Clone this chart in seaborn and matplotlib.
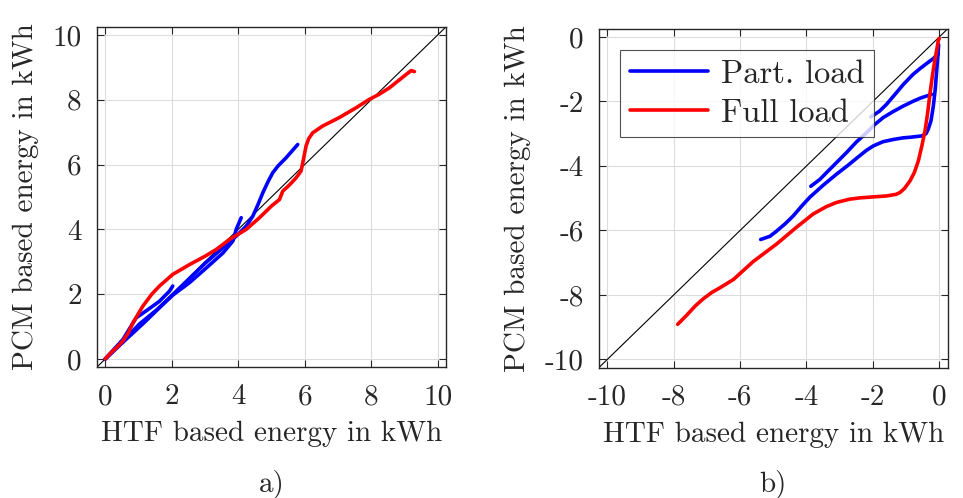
import numpy as np
import pandas as pd
import matplotlib
matplotlib.use("Agg")
import matplotlib.pyplot as plt
import seaborn as sns

# ---------------- data ----------------
# Panel a) charging
a_full_x = [0.0, 0.15, 0.33, 0.53, 0.70, 0.83, 1.13, 1.40, 1.63, 2.03, 2.53, 3.00, 3.34, 3.74, 4.24, 4.64, 5.00, 5.24, 5.34, 5.55, 5.74, 5.89, 5.97, 6.04, 6.12, 6.24, 6.54, 7.04, 7.54, 7.94, 8.24, 8.55, 9.05, 9.20, 9.30]
a_full_y = [0.0, 0.17, 0.34, 0.55, 0.82, 1.11, 1.63, 2.00, 2.25, 2.61, 2.91, 3.17, 3.38, 3.69, 4.00, 4.36, 4.72, 4.92, 5.18, 5.38, 5.59, 5.80, 6.20, 6.57, 6.80, 6.98, 7.19, 7.45, 7.75, 8.01, 8.17, 8.37, 8.78, 8.90, 8.87]

a_part1_x = [0.0, 0.53, 0.93, 1.28, 1.63, 1.93, 2.03]
a_part1_y = [0.0, 0.60, 1.27, 1.52, 1.78, 2.09, 2.25]
a_part2_x = [0.0, 0.53, 1.03, 1.53, 2.03, 2.53, 3.04, 3.54, 3.84, 3.94, 4.09]
a_part2_y = [0.0, 0.55, 1.08, 1.50, 1.97, 2.35, 2.81, 3.27, 3.64, 4.00, 4.36]
a_part3_x = [0.0, 0.60, 1.20, 2.00, 3.00, 3.94, 4.24, 4.44, 4.60, 4.74, 4.90, 5.04, 5.20, 5.44, 5.79]
a_part3_y = [0.0, 0.58, 1.15, 1.95, 2.95, 3.79, 4.10, 4.41, 4.78, 5.13, 5.48, 5.75, 5.96, 6.21, 6.62]

# Panel b) discharging
b_full_x = [-7.88, -7.61, -7.35, -7.11, -6.85, -6.61, -6.20, -5.90, -5.60, -4.90, -4.30, -3.80, -3.40, -3.09, -2.70, -2.39, -2.00, -1.59, -1.30, -1.18, -1.05, -0.88, -0.75, -0.63, -0.53, -0.43, -0.35, -0.28, -0.20, -0.13, -0.06, -0.03, 0.00]
b_full_y = [-8.91, -8.63, -8.34, -8.12, -7.92, -7.78, -7.52, -7.24, -6.96, -6.42, -5.90, -5.49, -5.26, -5.13, -5.03, -4.99, -4.96, -4.93, -4.88, -4.82, -4.70, -4.46, -4.20, -3.84, -3.40, -2.91, -2.35, -1.75, -1.15, -0.70, -0.30, -0.10, -0.05]

b_part1_x = [-5.38, -5.10, -4.90, -4.65, -4.40, -4.15, -3.90, -3.50, -3.09, -2.75, -2.49, -2.20, -1.99, -1.70, -1.39, -1.10, -0.88, -0.53, -0.40, -0.33, -0.25, -0.18, -0.12, -0.08, -0.04, -0.02]
b_part1_y = [-6.28, -6.18, -6.02, -5.80, -5.55, -5.25, -4.97, -4.60, -4.25, -3.98, -3.76, -3.52, -3.38, -3.25, -3.18, -3.13, -3.11, -3.07, -3.00, -2.85, -2.60, -2.15, -1.60, -1.06, -0.55, -0.24]
b_part2_x = [-3.87, -3.60, -3.39, -3.10, -2.79, -2.50, -2.19, -1.95, -1.69, -1.40, -1.08, -0.80, -0.58, -0.35, -0.23]
b_part2_y = [-4.63, -4.42, -4.20, -3.90, -3.58, -3.26, -2.97, -2.72, -2.50, -2.32, -2.14, -2.00, -1.90, -1.82, -1.78]
b_part3_x = [-2.06, -1.80, -1.59, -1.35, -1.08, -0.80, -0.58, -0.35, -0.18, -0.03]
b_part3_y = [-2.48, -2.30, -2.09, -1.80, -1.47, -1.17, -0.98, -0.80, -0.67, -0.52]

series_labels = ["Part. load", "Full load"]
a_ticks = [0, 2, 4, 6, 8, 10]
b_ticks = [-10, -8, -6, -4, -2, 0]
xlabel = "HTF based energy in kWh"
ylabel = "PCM based energy in kWh"
panel_tags = ["a)", "b)"]

# ---------------- style ----------------
sns.set_theme(style="white")
plt.rcParams["font.family"] = ["cmr10", "DejaVu Serif"]
plt.rcParams["axes.unicode_minus"] = False
plt.rcParams["mathtext.fontset"] = "cm"
FS = 21
LFS = 23.5
TXT = "#262626"

fig = plt.figure(figsize=(9.63, 4.98), dpi=100)
axA = fig.add_axes([0.1007, 0.263, 0.3624, 0.683])
axB = fig.add_axes([0.622, 0.262, 0.362, 0.680])

blue = "#0000FF"
red = "#FF0000"
LW = 2.6


def draw(ax, x, y, color, label=None):
    df = pd.DataFrame({"x": x, "y": y})
    sns.lineplot(data=df, x="x", y="y", ax=ax, color=color, lw=LW, sort=False,
                 estimator=None, label=label, legend=False)


# panel a
for px, py in [(a_part1_x, a_part1_y), (a_part2_x, a_part2_y), (a_part3_x, a_part3_y)]:
    draw(axA, px, py, blue)
draw(axA, a_full_x, a_full_y, red)
axA.plot([-0.25, 10.25], [-0.25, 10.25], color="black", lw=0.8, zorder=1)
axA.set_xlim(-0.25, 10.25)
axA.set_ylim(-0.25, 10.25)
axA.set_xticks(a_ticks)
axA.set_yticks(a_ticks)

# panel b
draw(axB, b_part1_x, b_part1_y, blue, series_labels[0])
draw(axB, b_part2_x, b_part2_y, blue)
draw(axB, b_part3_x, b_part3_y, blue)
draw(axB, b_full_x, b_full_y, red, series_labels[1])
axB.plot([-10.25, 0.25], [-10.25, 0.25], color="black", lw=0.8, zorder=1)
axB.set_xlim(-10.25, 0.25)
axB.set_ylim(-10.25, 0.25)
axB.set_xticks(b_ticks)
axB.set_yticks(b_ticks)

for ax, tag in zip([axA, axB], panel_tags):
    ax.grid(True, color="#dcdcdc", lw=0.8)
    ax.set_axisbelow(True)
    for s in ax.spines.values():
        s.set_color(TXT)
        s.set_linewidth(1.0)
    ax.tick_params(direction="in", length=5, width=0.8, colors=TXT,
                   top=True, right=True, bottom=True, left=True,
                   labelsize=FS, labelcolor=TXT)
    ax.tick_params(axis="x", pad=12)
    ax.tick_params(axis="y", pad=11)
    ax.set_xlabel(xlabel, fontsize=FS, color=TXT, labelpad=8)
    ax.set_ylabel(ylabel, fontsize=FS, color=TXT, labelpad=10)
    bb = ax.get_position()
    fig.text((bb.x0 + bb.x1) / 2, 0.028, tag, ha="center", va="center",
             fontsize=FS, color=TXT)

leg = axB.legend(loc="upper left", bbox_to_anchor=(0.06, 0.938), fontsize=LFS,
                 frameon=True, fancybox=False, edgecolor=TXT,
                 handlelength=2.4, borderpad=0.3, labelspacing=0.3,
                 handletextpad=0.4, borderaxespad=0.0)
leg.get_frame().set_linewidth(0.8)
for t in leg.get_texts():
    t.set_color(TXT)

fig.savefig("out.png", dpi=100)
